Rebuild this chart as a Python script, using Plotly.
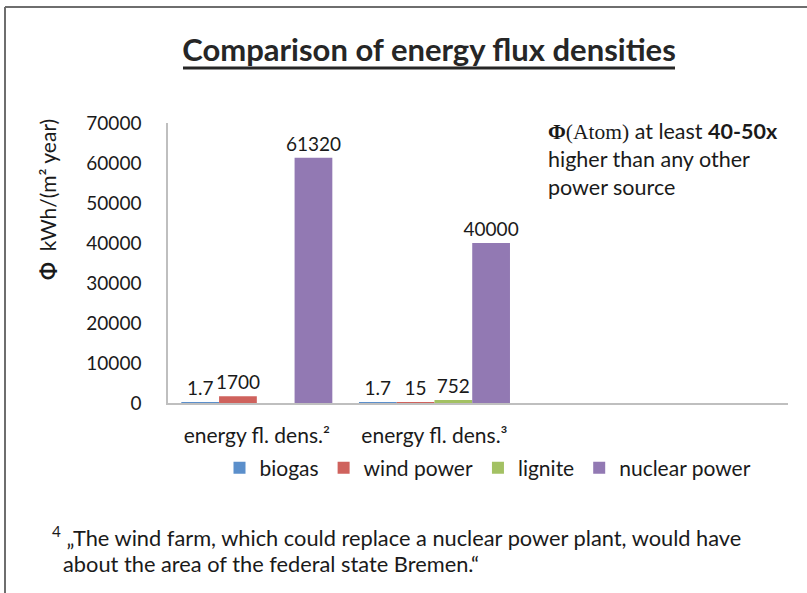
import plotly.graph_objects as go

# ---- data ----
categories = ["energy fl. dens.²", "energy fl. dens.³"]
series_names = ["biogas", "wind power", "lignite", "nuclear power"]
biogas = [1.7, 1.7]
wind_power = [1700, 15]
lignite = [None, 752]
nuclear_power = [61320, 40000]
y_ticks = [0, 10000, 20000, 30000, 40000, 50000, 60000, 70000]

series_values = [biogas, wind_power, lignite, nuclear_power]
colors = ["#5B8FCB", "#CF625D", "#A3C163", "#9279B3"]

FONT = "Lato"
TXT = "#1a1a1a"

# plot area in pixels: x 168..788, y 123..403
def px_x(x):
    return (x - 168) / 620.0

def px_y(y):
    return (403 - y) / 280.0

def fmt(v):
    return "" if v is None else "{:g}".format(v)

fig = go.Figure()
for name, vals, col in zip(series_names, series_values, colors):
    fig.add_trace(go.Bar(
        name=name, x=categories, y=vals, marker=dict(color=col, line=dict(width=0)),
        text=[fmt(v) for v in vals], textposition="outside", constraintext="none",
        textfont=dict(family=FONT, size=19, color=TXT),
        cliponaxis=False,
    ))

fig.update_layout(
    width=807, height=593,
    margin=dict(l=168, r=19, t=123, b=190),
    paper_bgcolor="white", plot_bgcolor="white",
    barmode="group", bargap=0.15, bargroupgap=0,
    font=dict(family=FONT, color=TXT),
    title=dict(text="Comparison of energy flux densities", x=429 / 807, xref="container",
               xanchor="center", y=1 - 50 / 593, yanchor="middle",
               font=dict(family=FONT, size=31, color="#262626", weight="bold")),
    legend=dict(orientation="h", x=px_x(488), y=px_y(468), xanchor="center", yanchor="middle",
                font=dict(family=FONT, size=21, color=TXT), itemwidth=30,
                traceorder="normal", bgcolor="rgba(0,0,0,0)"),
    showlegend=True,
)

fig.update_xaxes(type="category", range=[-0.5, 2.99], showline=True, linecolor="#BFBFBF",
                 linewidth=2, showgrid=False, zeroline=False, ticks="outside", ticklen=13,
                 tickcolor="rgba(0,0,0,0)", tickfont=dict(family=FONT, size=21, color=TXT))
fig.update_yaxes(range=[0, 70000], tickvals=y_ticks, tickformat="d", showline=True,
                 linecolor="#BFBFBF", linewidth=1.5, showgrid=False, zeroline=False,
                 ticks="outside", ticklen=21, tickcolor="rgba(0,0,0,0)",
                 tickfont=dict(family=FONT, size=19, color=TXT))

# title underline
fig.add_shape(type="line", xref="paper", yref="paper", x0=px_x(183), x1=px_x(675),
              y0=px_y(68), y1=px_y(68), line=dict(color="#262626", width=3))
# outer frame (top and left)
fig.add_shape(type="line", xref="paper", yref="paper", x0=px_x(5), x1=px_x(812),
              y0=px_y(7), y1=px_y(7), line=dict(color="#6e6e6e", width=2))
fig.add_shape(type="line", xref="paper", yref="paper", x0=px_x(5), x1=px_x(5),
              y0=px_y(7), y1=px_y(600), line=dict(color="#6e6e6e", width=2))

# y-axis title
fig.add_annotation(xref="paper", yref="paper", x=px_x(47), y=px_y(200), xanchor="center",
                   yanchor="middle", textangle=-90, showarrow=False,
                   text="<b>Φ</b>  kWh/(m² year)",
                   font=dict(family=FONT, size=21, color=TXT))

# right-side note
fig.add_annotation(xref="paper", yref="paper", x=px_x(546), y=px_y(116), xanchor="left",
                   yanchor="top", align="left", showarrow=False,
                   text=("<span style='font-family:Liberation Serif'><b>Φ</b>(Atom)</span>"
                         " at least <b>40-50x</b><br>higher than any other<br>power source"),
                   font=dict(family=FONT, size=21.5, color=TXT))

# footnote
fig.add_annotation(xref="paper", yref="paper", x=px_x(50), y=px_y(536), xanchor="left",
                   yanchor="middle", align="left", showarrow=False,
                   text="<sup>4</sup> „The wind farm, which could replace a nuclear power plant, would have",
                   font=dict(family=FONT, size=21.8, color=TXT))
fig.add_annotation(xref="paper", yref="paper", x=px_x(61), y=px_y(563), xanchor="left",
                   yanchor="middle", align="left", showarrow=False,
                   text="about the area of the federal state Bremen.“",
                   font=dict(family=FONT, size=21.8, color=TXT))

fig.write_html("out.html", config={"displayModeBar": False},
               post_script="document.body.style.margin='0px';")
